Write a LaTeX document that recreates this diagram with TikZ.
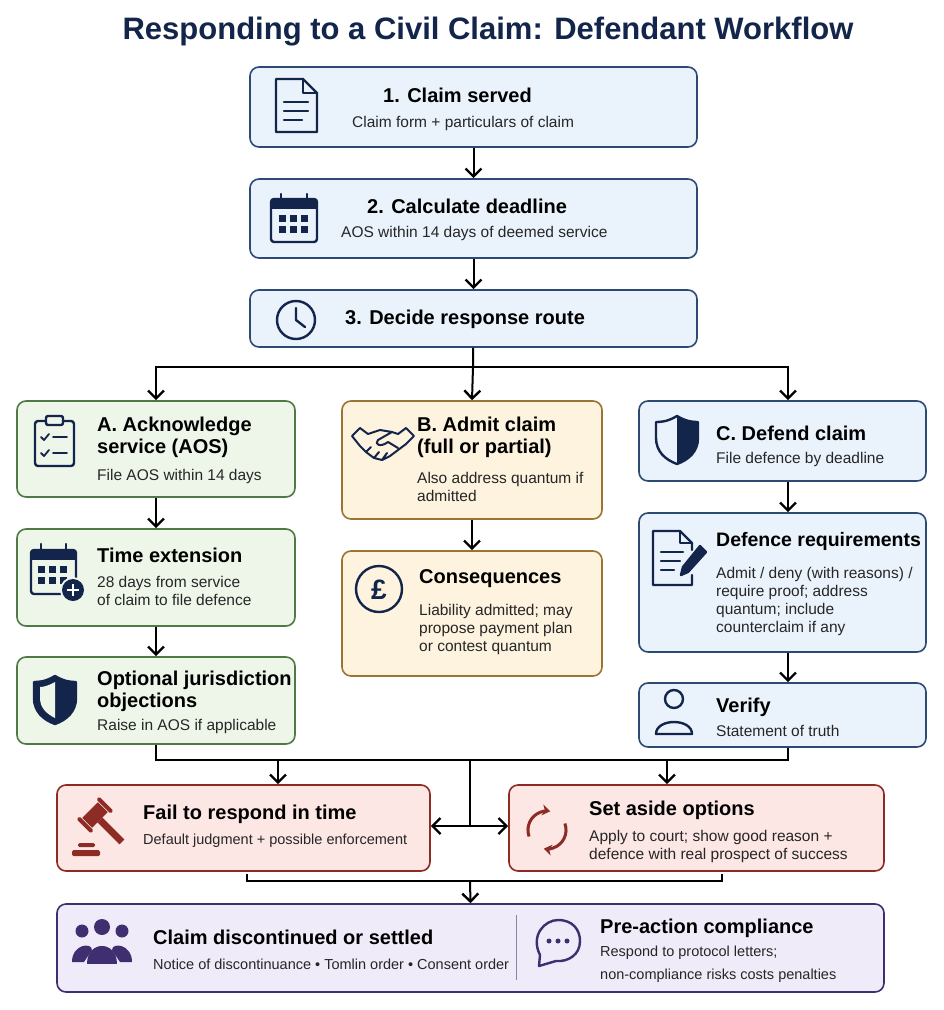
\documentclass[tikz,border=0pt]{standalone}
\usepackage{fontspec}
\setmainfont{Liberation Sans}
\usetikzlibrary{arrows.meta,calc}

\definecolor{navy}{HTML}{13254A}
\definecolor{bluefill}{HTML}{EAF3FC}\definecolor{bluedraw}{HTML}{2C4A73}
\definecolor{greenfill}{HTML}{EEF6EA}\definecolor{greendraw}{HTML}{4F7A45}
\definecolor{yellowfill}{HTML}{FDF3DE}\definecolor{yellowdraw}{HTML}{9A7430}
\definecolor{redfill}{HTML}{FCE7E4}\definecolor{reddraw}{HTML}{8E2B24}
\definecolor{purplefill}{HTML}{EFEBF8}\definecolor{purpledraw}{HTML}{3F2F70}

\tikzset{
  box/.style={draw=#1draw, fill=#1fill, line width=1.6pt, rounded corners=9pt, inner sep=0pt},
  head/.style={anchor=west, font=\fontsize{20}{22}\selectfont\bfseries, text=black, inner sep=0pt},
  body/.style={anchor=west, font=\fontsize{15.5}{18}\selectfont, text=black!85, inner sep=0pt},
  line/.style={line width=2pt, black},
  arrow/.style={line, -{Straight Barb[length=8pt,width=16pt,line width=2.4pt]}},
  ico/.style={line width=2.4pt, navy, line cap=round, line join=round},
}
% box from corner to corner
\newcommand{\stepbox}[6]{\node[box=#6, minimum width=#4pt-#2pt, minimum height=#5pt-#3pt] (#1) at ({(#2+#4)/2},{(#3+#5)/2}) {};}

\begin{document}
\begin{tikzpicture}[x=1pt,y=-1pt]
\useasboundingbox (0,0) rectangle (944,1010);
\fill[white] (0,0) rectangle (944,1010);

% title
\node[font=\fontsize{31}{34}\selectfont\bfseries, text=navy] (title) at (488,32) {Responding to a Civil Claim: Defendant Workflow};

% boxes
\stepbox{s1}{250}{67}{697}{147}{blue}
\stepbox{s2}{250}{179}{697}{258}{blue}
\stepbox{s3}{250}{290}{697}{347}{blue}
\stepbox{sa}{17}{401}{295}{497}{green}
\stepbox{sa2}{17}{529}{295}{626}{green}
\stepbox{sa3}{17}{657}{295}{744}{green}
\stepbox{sb}{342}{401}{602}{519}{yellow}
\stepbox{sb2}{342}{551}{602}{676}{yellow}
\stepbox{sc}{639}{401}{926}{481}{blue}
\stepbox{sc2}{639}{513}{926}{652}{blue}
\stepbox{sc3}{639}{683}{926}{747}{blue}
\stepbox{fail}{57}{785}{430}{871}{red}
\stepbox{aside}{509}{785}{884}{871}{red}
\stepbox{fin}{57}{904}{884}{992}{purple}
\draw[purpledraw!60, line width=1pt] (516,915) -- (516,980);

% texts
\node[head] (t1) at (383,95) {1. Claim served};
\node[body] (b1) at (352,123) {Claim form + particulars of claim};
\node[head] (t2) at (367,206) {2. Calculate deadline};
\node[body] (b2) at (341,233) {AOS within 14 days of deemed service};
\node[head] (t3) at (345,319) {3. Decide response route};

\node[head, align=left] (ta) at (97,437) {A. Acknowledge\\service (AOS)};
\node[body] (ba) at (97,476) {File AOS within 14 days};
\node[head] (ta2) at (97,555) {Time extension};
\node[body, align=left] (ba2) at (97,591) {28 days from service\\of claim to file defence};
\node[head, align=left] (ta3) at (97,691) {Optional jurisdiction\\objections};
\node[body] (ba3) at (97,726) {Raise in AOS if applicable};

\node[head, align=left] (tb) at (417,437) {B. Admit claim\\(full or partial)};
\node[body, align=left] (bb) at (417,487) {Also address quantum if\\admitted};
\node[head] (tb2) at (419,579) {Consequences};
\node[body, align=left] (bb2) at (419,629) {Liability admitted; may\\propose payment plan\\or contest quantum};

\node[head] (tc) at (716,433) {C. Defend claim};
\node[body] (bc) at (716,459) {File defence by deadline};
\node[head, font=\fontsize{19.5}{22}\selectfont\bfseries] (tc2) at (716,541) {Defence requirements};
\node[body, align=left] (bc2) at (716,601) {Admit / deny (with reasons) /\\require proof; address\\quantum; include\\counterclaim if any};
\node[head] (tc3) at (716,707) {Verify};
\node[body] (bc3) at (716,731) {Statement of truth};

\node[head] (tf) at (143,814) {Fail to respond in time};
\node[body, font=\fontsize{14.5}{18}\selectfont] (bf) at (143,841) {Default judgment + possible enforcement};
\node[head] (ts) at (589,810) {Set aside options};
\node[body, align=left] (bs) at (589,846) {Apply to court; show good reason +\\defence with real prospect of success};

\node[head] (tn) at (153,937) {Claim discontinued or settled};
\node[body, font=\fontsize{14.5}{18}\selectfont] (bn) at (153,964) {Notice of discontinuance • Tomlin order • Consent order};
\node[head] (tp) at (600,928) {Pre-action compliance};
\node[body, align=left, font=\fontsize{14.5}{22.5}\selectfont] (bp) at (600,964) {Respond to protocol letters;\\non-compliance risks costs penalties};

% icons
% document
\draw[ico] (276,79) -- (303,79) -- (317,93) -- (317,132) -- (276,132) -- cycle;
\draw[ico] (303,79) -- (303,93) -- (317,93);
\draw[ico] (284,102) -- (308,102) (284,111) -- (308,111) (284,120) -- (302,120);
% calendar
\draw[ico, rounded corners=3pt] (271,199) rectangle (317,242);
\fill[navy] (271,199) rectangle (317,209);
\draw[ico] (281,194) -- (281,202) (307,194) -- (307,202);
\foreach \i in {0,1,2} \foreach \j in {0,1}
  \fill[navy] (279+\i*11,215+\j*11) rectangle ++(7,7);
% clock
\draw[ico] (296,320) circle (19);
\draw[ico] (296,308) -- (296,320) -- (305,327);
% clipboard
\draw[ico, rounded corners=3pt] (35,421) rectangle (74,466);
\draw[ico, fill=greenfill, rounded corners=2pt] (46,416) rectangle (63,425);
\draw[ico, line width=1.8pt] (41,437) -- (44,440) -- (49,434) (53,437) -- (67,437)
  (41,453) -- (44,456) -- (49,450) (53,453) -- (67,453);
% calendar plus
\draw[ico, rounded corners=3pt] (31,550) rectangle (76,594);
\fill[navy] (31,550) rectangle (76,560);
\draw[ico] (41,544) -- (41,553) (66,544) -- (66,553);
\foreach \i in {0,1,2} \foreach \j in {0,1}
  \fill[navy] (38+\i*11,566+\j*11) rectangle ++(7,7);
\fill[greenfill] (73,590) circle (13);
\fill[navy] (73,590) circle (11);
\draw[white, line width=2.4pt] (67,590) -- (79,590) (73,584) -- (73,596);
% shield A
\draw[ico, fill=navy] (55,676) .. controls (65,682) and (72,682) .. (76,682) -- (76,698) .. controls (76,712) and (66,720) .. (55,724) .. controls (44,720) and (34,712) .. (34,698) -- (34,682) .. controls (38,682) and (45,682) .. (55,676) -- cycle;
\fill[greenfill] (55,682) .. controls (48,686) and (43,687) .. (40,687) -- (40,698) .. controls (40,708) and (47,714) .. (55,718) -- cycle;
% handshake
\draw[ico, line width=2pt] (352,436) -- (360,428) -- (368,434) (398,434) -- (406,428) -- (414,436)
  (352,436) -- (360,446) (406,444) -- (414,436)
  (368,434) -- (380,430) -- (392,432) -- (398,434)
  (360,446) -- (366,452) -- (374,458) -- (382,460) -- (390,456) -- (406,444)
  (392,432) -- (378,440) .. controls (374,444) and (380,448) .. (388,442) -- (398,448)
  (366,452) -- (371,447) (374,458) -- (379,452) (382,460) -- (387,453);
% pound
\draw[ico] (379,589) circle (23);
\node[font=\fontsize{28}{30}\selectfont\bfseries, text=navy] (pound) at (379,590) {£};
% shield C
\draw[ico] (677,416) .. controls (687,422) and (694,422) .. (698,422) -- (698,438) .. controls (698,452) and (688,460) .. (677,464) .. controls (666,460) and (656,452) .. (656,438) -- (656,422) .. controls (660,422) and (667,422) .. (677,416) -- cycle;
\fill[navy] (677,416) .. controls (687,422) and (694,422) .. (698,422) -- (698,438) .. controls (698,452) and (688,460) .. (677,464) -- cycle;
% document with pen
\draw[ico] (692,575) -- (692,585) -- (653,585) -- (653,531) -- (680,531) -- (692,543) -- (692,550);
\draw[ico] (680,531) -- (680,543) -- (692,543);
\draw[ico] (661,552) -- (683,552) (661,561) -- (680,561) (661,570) -- (674,570);
\draw[ico, fill=navy] (700,546) -- (706,552) -- (688,572) -- (681,575) -- (683,567) -- cycle;
% person
\draw[ico] (674,699) circle (9);
\draw[ico] (656,734) .. controls (656,718) and (692,718) .. (692,734) -- cycle;
% gavel
\begin{scope}[shift={(95,815)}, rotate=45]
  \fill[reddraw] (-11,-7) rectangle (11,7);
  \fill[reddraw] (-3.5,7) rectangle (3.5,38);
  \fill[reddraw, rounded corners=1.5pt] (-16,-10) rectangle (-12,10) (12,-10) rectangle (16,10);
\end{scope}
\fill[reddraw, rounded corners=1.5pt] (72,850) rectangle (100,856) (78,843) rectangle (95,847);
% refresh
\draw[line width=3pt, reddraw, -{Stealth[length=8pt,width=11pt]}] (529.1,836.5) arc (160:280:19);
\draw[line width=3pt, reddraw, -{Stealth[length=8pt,width=11pt]}] (564.9,823.5) arc (340:460:19);
% people
\fill[purpledraw] (102,927) circle (8) (82,931) circle (6.5) (122,931) circle (6.5);
\fill[purpledraw] (87,964) .. controls (87,940) and (117,940) .. (117,964) -- cycle;
\fill[purpledraw] (72,962) .. controls (72,944) and (92,942) .. (92,950) -- (84,962) -- cycle;
\fill[purpledraw] (132,962) .. controls (132,944) and (112,942) .. (112,950) -- (120,962) -- cycle;
% speech bubble
\draw[ico, purpledraw] (540,955) .. controls (530,935) and (545,920) .. (558,920) .. controls (573,920) and (580,930) .. (580,941) .. controls (580,955) and (568,962) .. (556,961) -- (539,966) -- cycle;
\fill[purpledraw] (549,941) circle (2.5) (558,941) circle (2.5) (567,941) circle (2.5);

% connectors
\coordinate (cx) at (788,0);
\draw[arrow] (s1) -- (s2);
\draw[arrow] (s2) -- (s3);
\coordinate (br) at (473,367);
\draw[line] (s3) -- (br);
\draw[arrow] (br) -| (sa.north);
\draw[arrow] (br) -- (sb.north);
\draw[arrow] (br) -| (sc.north -| cx);
\draw[arrow] (sa) -- (sa2);
\draw[arrow] (sa2) -- (sa3);
\draw[arrow] (sb) -- (sb2);
\draw[arrow] (sc.south -| cx) -- (sc2.north -| cx);
\draw[arrow] (sc2.south -| cx) -- (sc3.north -| cx);

\coordinate (mg) at (470,760);
\coordinate (mgL) at (278,760);
\coordinate (mgR) at (667,760);
\coordinate (mid) at (470,826);
\draw[line] (sa3.south) |- (mg) -| (sc3.south -| cx);
\draw[arrow] (mgL) -- (mgL |- fail.north);
\draw[arrow] (mgR) -- (mgR |- aside.north);
\draw[line] (mg) -- (mid);
\draw[arrow] (mid) -- (mid -| fail.east);
\draw[arrow] (mid) -- (mid -| aside.west);

\coordinate (bkL) at (247,874);
\coordinate (bkR) at (722,874);
\coordinate (bk) at (470,881);
\draw[line] (bkL) |- (bk) -| (bkR);
\draw[arrow] (bk) -- (fin.north);
\end{tikzpicture}
\end{document}
